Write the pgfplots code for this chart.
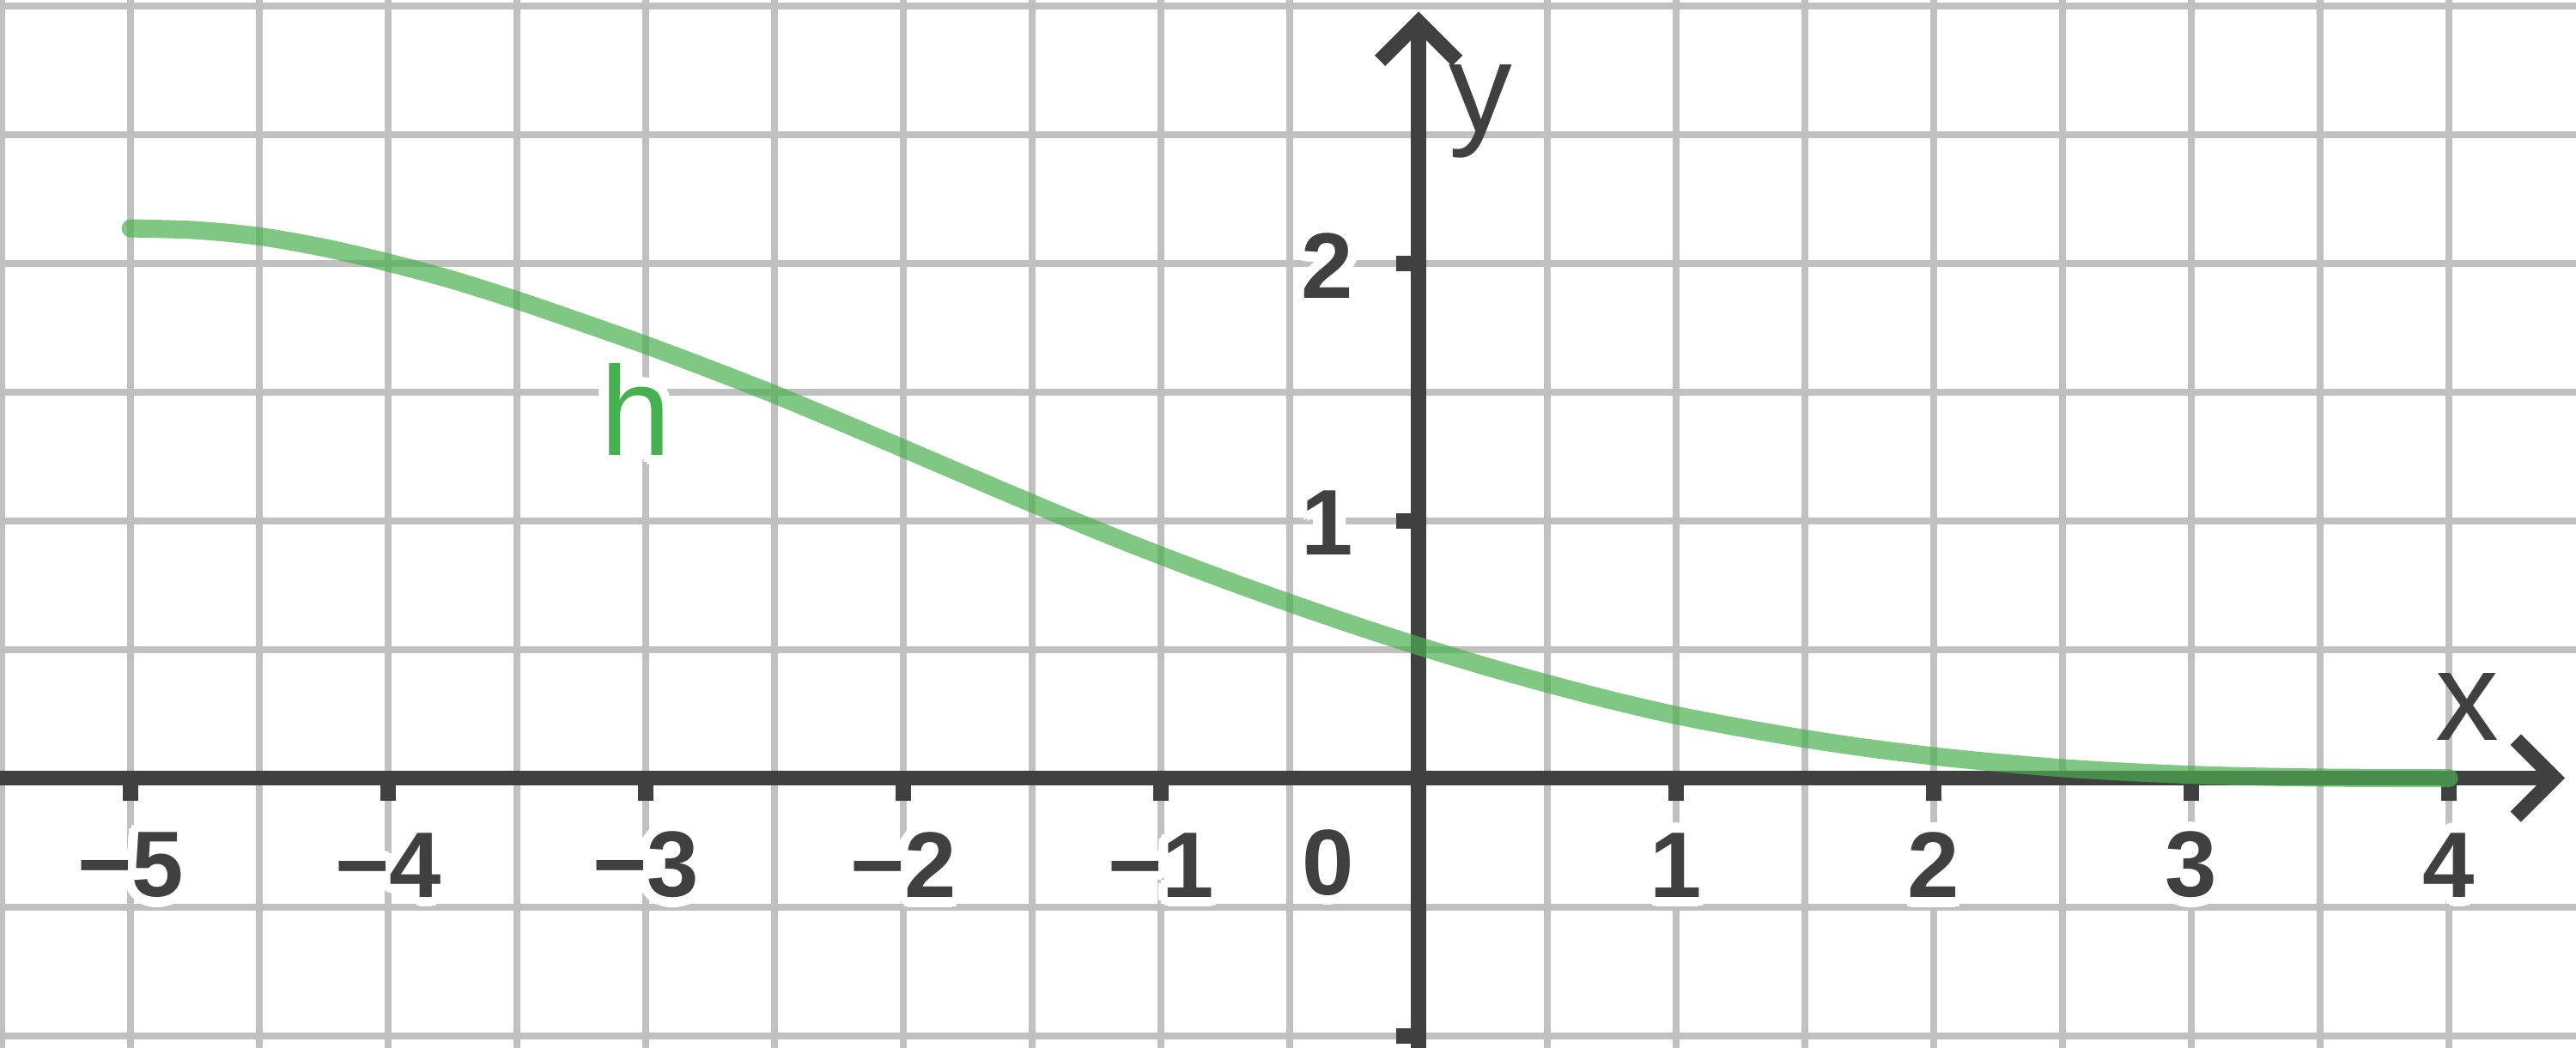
\documentclass[border=0pt]{standalone}
\usepackage{pgfplots}
\pgfplotsset{compat=1.18}
\usepackage{fontspec}
\setmainfont{Liberation Sans}
\usetikzlibrary{arrows.meta}

\definecolor{axisgray}{RGB}{64,64,64}
\definecolor{gridgray}{RGB}{192,192,192}
\definecolor{curvegreen}{RGB}{76,175,80}
\definecolor{labelgreen}{RGB}{70,177,80}

% white outline behind a label: copies shifted round the text
\newcommand{\hcopy}[3]{\rlap{\smash{\kern#1\raisebox{#2}{\color{white}#3}}}}
\newcommand{\halo}[1]{\leavevmode
  \hcopy{1.1pt}{0pt}{#1}\hcopy{-1.1pt}{0pt}{#1}\hcopy{0pt}{1.1pt}{#1}\hcopy{0pt}{-1.1pt}{#1}%
  \hcopy{0.78pt}{0.78pt}{#1}\hcopy{-0.78pt}{0.78pt}{#1}\hcopy{0.78pt}{-0.78pt}{#1}\hcopy{-0.78pt}{-0.78pt}{#1}%
  \hcopy{1.02pt}{0.42pt}{#1}\hcopy{-1.02pt}{0.42pt}{#1}\hcopy{1.02pt}{-0.42pt}{#1}\hcopy{-1.02pt}{-0.42pt}{#1}%
  \hcopy{0.42pt}{1.02pt}{#1}\hcopy{-0.42pt}{1.02pt}{#1}\hcopy{0.42pt}{-1.02pt}{#1}\hcopy{-0.42pt}{-1.02pt}{#1}%
  #1}

\begin{document}
\begin{tikzpicture}
\begin{axis}[%
    ,scale only axis
    ,width=10cm,height=4.07cm
    ,xmin=-5.507,xmax=4.493
    ,ymin=-1.048,ymax=3.022
    ,axis lines=middle
    ,axis line style={line width=1.65pt,axisgray}
    ,x axis line style={-{Straight Barb[length=0.15cm,width=0.3cm]},shorten >=0.043cm}
    ,y axis line style={-{Straight Barb[length=0.15cm,width=0.3cm]},shorten >=0.045cm}
    ,xtick={-5,-4,-3,-2,-1,1,2,3,4}
    ,ytick={-1,1,2}
    ,minor xtick={-5.5,-4.5,...,4.5}
    ,minor ytick={-0.5,0.5,1.5,2.5,3}
    ,grid=both
    ,major grid style={gridgray,line width=0.76pt}
    ,minor grid style={gridgray,line width=0.76pt}
    ,tick align=outside
    ,major tick length=0.087cm
    ,minor tick length=0pt
    ,major tick style={axisgray,line width=1.7pt}
    ,tick label style={font=\bfseries\fontsize{10.3}{12}\selectfont,text=axisgray,inner sep=0pt,anchor=center}
    ,xticklabels={\halo{−5},\halo{−4},\halo{−3},\halo{−2},\halo{−1},\halo{1},\halo{2},\halo{3},\halo{4}}
    ,yticklabels={,\halo{1},\halo{2}}
    ,xticklabel style={yshift=-0.25cm}
    ,yticklabel style={xshift=-0.267cm,yshift=-0.01cm}
    ,clip=false
    ]

% h
\addplot[curvegreen,opacity=0.7,line width=2.0pt,line cap=round,smooth,no marks] coordinates {
    (-5,2.135) (-4.75,2.128) (-4.5,2.104) (-4.25,2.06) (-4,2.002) (-3.75,1.935)
    (-3.5,1.856) (-3.25,1.770) (-3,1.682) (-2.75,1.588) (-2.5,1.490) (-2.25,1.386)
    (-2,1.280) (-1.75,1.173) (-1.5,1.067) (-1.25,0.963) (-1,0.864) (-0.75,0.770)
    (-0.5,0.680) (-0.25,0.594) (0,0.513) (0.25,0.437) (0.5,0.367) (0.75,0.302)
    (1,0.244) (1.25,0.196) (1.5,0.153) (1.75,0.116) (2,0.085) (2.25,0.060)
    (2.5,0.039) (2.75,0.024) (3,0.013) (3.25,0.006) (3.5,0.002) (3.75,0.0005) (4,0)};

\node[anchor=center,inner sep=0pt,font=\bfseries\fontsize{10.3}{12}\selectfont,text=axisgray] at (axis cs:-0.35,-0.327) {\halo{0}};
\node[anchor=base,inner sep=0pt,font=\fontsize{14}{16}\selectfont,text=labelgreen] at (axis cs:-3.04,1.253) {\halo{h}};
\node[anchor=base,inner sep=0pt,font=\fontsize{14}{16}\selectfont,text=axisgray] at (axis cs:4.07,0.147) {x};
\node[anchor=base,inner sep=0pt,font=\fontsize{14}{16}\selectfont,text=axisgray] at (axis cs:0.24,2.51) {y};
\end{axis}
\pgfresetboundingbox
\path[use as bounding box] (current axis.south west) rectangle (current axis.north east);
\end{tikzpicture}
\end{document}
